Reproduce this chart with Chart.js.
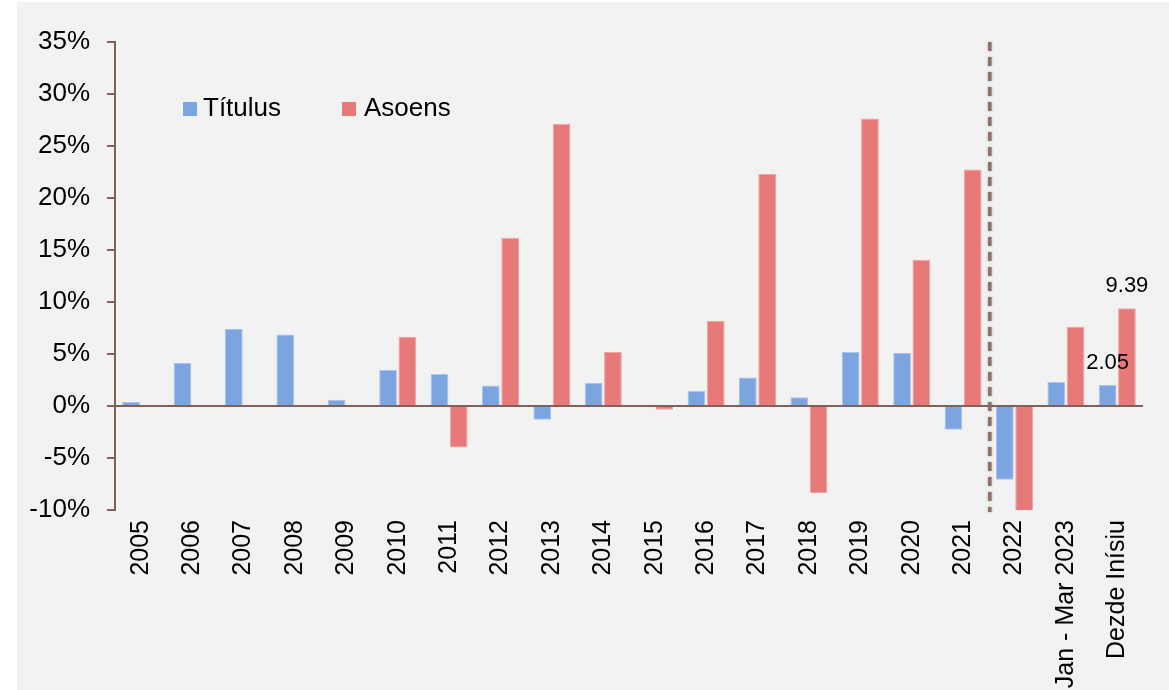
<!DOCTYPE html>
<html>
<head>
<meta charset="utf-8">
<script src="https://cdn.jsdelivr.net/npm/chart.js@4/dist/chart.umd.min.js"></script>
<style>
html,body{margin:0;padding:0;background:#fff;}
#wrap{position:absolute;left:0;top:0;width:1169px;height:690px;}
</style>
</head>
<body>
<div id="wrap"><canvas id="chart" width="1169" height="690"></canvas></div>
<script>
// data
let labels=["2005","2006","2007","2008","2009","2010","2011","2012","2013","2014","2015","2016","2017","2018","2019","2020","2021","2022","Jan - Mar 2023","Dezde Inísiu"];
let titulus=[0.38,4.13,7.4,6.88,0.6,3.46,3.08,1.98,-1.32,2.2,0,1.47,2.75,0.83,5.19,5.1,-2.28,-7.09,2.3,2.05];
let asoens=[null,null,null,null,null,6.66,-3.98,16.18,27.14,5.19,-0.36,8.17,22.3,-8.37,27.65,14.07,22.75,-10.2,7.62,9.39];
let yTicks=[-10,-5,0,5,10,15,20,25,30,35];

let blue="#7ba4e0";
let red="#e87979";
let brown="#7f6158";
let font="'Liberation Sans', Arial, sans-serif";

// grey panel behind the chart
const bgPlugin={
id:"bg",
beforeDraw(c){
const ctx=c.ctx;
ctx.save();
ctx.fillStyle="#f2f2f2";
ctx.fillRect(17,2,c.width-17,c.height-2);
ctx.restore();
}
};

// dashed divider between 2021 and 2022
const dividerPlugin={
id:"divider",
afterDatasetsDraw(c){
const ctx=c.ctx,x=c.scales.x,a=c.chartArea;
let px=(x.getPixelForValue(16)+x.getPixelForValue(17))/2+1;
ctx.save();
ctx.strokeStyle="#8f6f66";
ctx.lineWidth=3.5;
ctx.setLineDash([9,6]);
ctx.shadowColor="rgba(0,0,0,0.3)";
ctx.shadowBlur=3;
ctx.beginPath();
ctx.moveTo(px,a.top);
ctx.lineTo(px,a.bottom+2);
ctx.stroke();
ctx.restore();
}
};

// value labels on the last group
const valuePlugin={
id:"values",
afterDatasetsDraw(c){
const ctx=c.ctx;
let last=labels.length-1;
ctx.save();
ctx.font="22px "+font;
ctx.fillStyle="#000";
ctx.textAlign="center";
ctx.textBaseline="middle";
c.data.datasets.forEach((ds,i)=>{
let bar=c.getDatasetMeta(i).data[last];
ctx.fillText(ds.data[last].toFixed(2),bar.x,bar.y-22);
});
ctx.restore();
}
};

// legend inside the plot
const legendPlugin={
id:"legendIn",
afterDraw(c){
const ctx=c.ctx;
let items=[[183,203],[342,364]];
ctx.save();
ctx.font="26px "+font;
ctx.textBaseline="middle";
c.data.datasets.forEach((ds,i)=>{
ctx.fillStyle=ds.backgroundColor;
ctx.fillRect(items[i][0],102,14,14);
ctx.fillStyle="#000";
ctx.fillText(ds.label,items[i][1],109);
});
ctx.restore();
}
};

new Chart(document.getElementById("chart"),{
type:"bar",
data:{
labels:labels,
datasets:[
{label:"Títulus",data:titulus,backgroundColor:blue,borderColor:"#a9c4ec",borderWidth:1},
{label:"Asoens",data:asoens,backgroundColor:red,borderColor:"#f0a3a3",borderWidth:1}
]
},
options:{
responsive:false,
animation:false,
categoryPercentage:0.75,
barPercentage:0.92,
layout:{padding:{left:0,right:26,top:42,bottom:0}},
plugins:{legend:{display:false},tooltip:{enabled:false}},
scales:{
x:{
afterFit(s){s.height=180;},
grid:{display:false,drawTicks:false},
border:{display:false},
ticks:{font:{family:font,size:25},color:"#000",maxRotation:90,minRotation:90,padding:10,autoSkip:false}
},
y:{
min:-10,max:35,
afterFit(s){s.width=115;},
afterBuildTicks(s){s.ticks=yTicks.map(v=>({value:v}));},
grid:{
color:ctx=>ctx.tick&&ctx.tick.value===0?brown:"transparent",
lineWidth:2,
tickColor:brown,
tickLength:8
},
border:{color:brown,width:2},
ticks:{font:{family:font,size:26},color:"#000",padding:17,callback:v=>v+"%"}
}
}
},
plugins:[bgPlugin,dividerPlugin,valuePlugin,legendPlugin]
});
</script>
</body>
</html>
